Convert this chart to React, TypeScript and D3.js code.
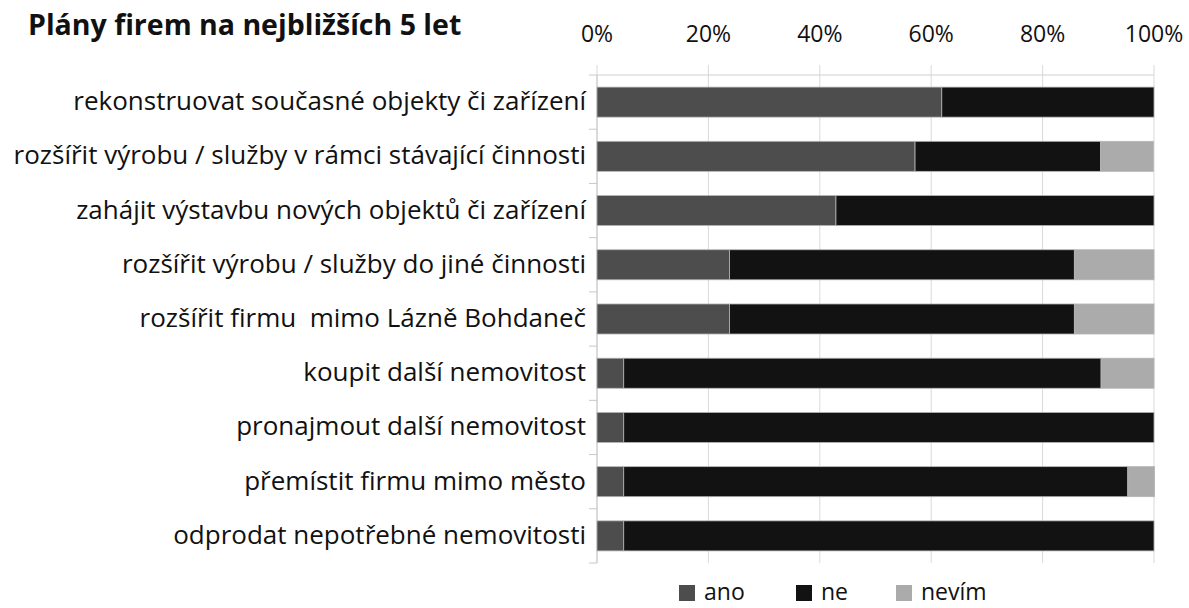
import React from "react";
import * as d3 from "d3";

const categories = [
  "rekonstruovat současné objekty či zařízení",
  "rozšířit výrobu / služby v rámci stávající činnosti",
  "zahájit výstavbu nových objektů či zařízení",
  "rozšířit výrobu / služby do jiné činnosti",
  "rozšířit firmu  mimo Lázně Bohdaneč",
  "koupit další nemovitost",
  "pronajmout další nemovitost",
  "přemístit firmu mimo město",
  "odprodat nepotřebné nemovitosti",
];
const ano = [61.9, 57.1, 42.9, 23.8, 23.8, 4.8, 4.8, 4.8, 4.8];
const ne = [38.1, 33.3, 57.1, 61.9, 61.9, 85.7, 95.2, 90.5, 95.2];
const nevim = [0, 9.5, 0, 14.3, 14.3, 9.5, 0, 4.8, 0];
const seriesNames = ["ano", "ne", "nevím"];
const seriesColors = ["#4d4d4d", "#121212", "#ababab"];
const tickValues = [0, 20, 40, 60, 80, 100];
const title = "Plány firem na nejbližších 5 let";

const W = 1189;
const H = 608;
const left = 597;
const right = 1154;
const top = 75;
const bottom = 563;
const font = "'Open Sans', sans-serif";

export default function App() {
  const x = d3.scaleLinear().domain([0, 100]).range([left, right]);
  const y = d3
    .scaleBand<string>()
    .domain(categories)
    .range([top, bottom])
    .paddingInner(0.446)
    .paddingOuter(0.223);
  const rows = categories.map((c, i) => ({ cat: c, ano: ano[i], ne: ne[i], nevim: nevim[i] }));
  const stack = d3.stack<any>().keys(["ano", "ne", "nevim"])(rows);
  const step = (bottom - top) / categories.length;
  const bounds = d3.range(categories.length + 1).map((k) => top + k * step);
  const legendX = [679, 796, 896];

  return (
    <svg width={W} height={H} style={{ position: "absolute", left: 0, top: 0, background: "#fff" }}>
      <text x={28} y={35} fontFamily={font} fontWeight="bold" fontSize={28.5} fill="#111">
        {title}
      </text>
      {tickValues.map((t) => (
        <g key={t}>
          <line x1={x(t)} x2={x(t)} y1={65} y2={bottom} stroke="#d9d9d9" strokeWidth={1} />
          <text x={x(t)} y={42} textAnchor="middle" fontFamily={font} fontSize={23} fill="#111">
            {t}%
          </text>
        </g>
      ))}
      <line x1={left} x2={right} y1={top} y2={top} stroke="#d0d0d0" strokeWidth={1} />
      <line x1={left} x2={left} y1={top} y2={bottom} stroke="#c8c8c8" strokeWidth={1} />
      {bounds.map((b, k) => (
        <line key={k} x1={589} x2={left} y1={b} y2={b} stroke="#c8c8c8" strokeWidth={1} />
      ))}
      {stack.map((s, si) => (
        <g key={si}>
          {s.map((d, i) =>
            d[1] - d[0] > 0 ? (
              <rect
                key={i}
                x={x(d[0])}
                y={y(categories[i])!}
                width={x(d[1]) - x(d[0])}
                height={y.bandwidth()}
                fill={seriesColors[si]}
                stroke="#b5b5b5"
                strokeWidth={0.8}
              />
            ) : null
          )}
        </g>
      ))}
      {categories.map((c) => (
        <text
          key={c}
          x={586}
          y={y(c)! + y.bandwidth() / 2 + 8}
          textAnchor="end"
          fontFamily={font}
          fontSize={26}
          fill="#111"
          style={{ whiteSpace: "pre" }}
        >
          {c}
        </text>
      ))}
      {seriesNames.map((n, i) => (
        <g key={n}>
          <rect x={legendX[i]} y={585} width={16} height={16} fill={seriesColors[i]} />
          <text x={legendX[i] + 25} y={600} fontFamily={font} fontSize={23} fill="#111">
            {n}
          </text>
        </g>
      ))}
    </svg>
  );
}
